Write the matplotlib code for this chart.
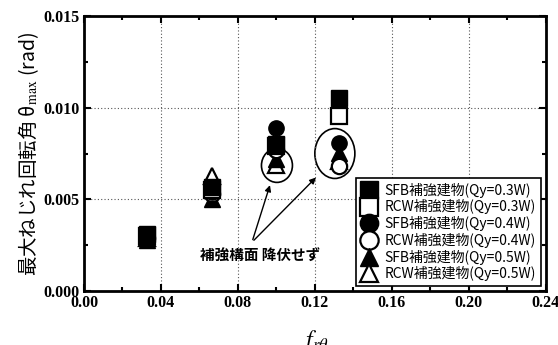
import matplotlib.pyplot as plt
from matplotlib.patches import Ellipse

plt.rcParams["mathtext.fontset"] = "stix"

# data
x_groups = [0.033, 0.0665, 0.100, 0.1325]
sfb_03 = [0.0031, 0.0057, 0.0080, 0.01054]
rcw_03 = [0.0030, 0.0055, 0.0079, 0.00957]
sfb_04 = [0.0029, 0.0054, 0.0089, 0.0081]
rcw_04 = [0.0029, 0.0053, 0.0077, 0.0068]
sfb_05 = [0.0028, 0.0050, 0.0072, 0.00755]
rcw_05 = [0.0029, 0.0063, 0.0069, 0.0071]

labels = ["SFB補強建物(Qy=0.3W)", "RCW補強建物(Qy=0.3W)",
          "SFB補強建物(Qy=0.4W)", "RCW補強建物(Qy=0.4W)",
          "SFB補強建物(Qy=0.5W)", "RCW補強建物(Qy=0.5W)"]

jp = ["Noto Sans CJK JP", "DejaVu Sans"]
serif = ["Liberation Serif", "DejaVu Serif"]

fig = plt.figure(figsize=(5.58, 3.45), dpi=100)
ax = fig.add_axes([0.1505, 0.1565, 0.8275, 0.797])

ms = 11
# triangles first, then circles, then squares (as in the scan)
ax.plot(x_groups, rcw_05, "^", ms=ms, mfc="white", mec="black", mew=1.6, ls="none", label=labels[5])
ax.plot(x_groups, sfb_05, "^", ms=ms, mfc="black", mec="black", ls="none", label=labels[4])
ax.plot(x_groups, rcw_04, "o", ms=ms, mfc="white", mec="black", mew=1.6, ls="none", label=labels[3])
ax.plot(x_groups, sfb_04, "o", ms=ms, mfc="black", mec="black", ls="none", label=labels[2])
ax.plot(x_groups, rcw_03, "s", ms=ms, mfc="white", mec="black", mew=1.6, ls="none", label=labels[1])
ax.plot(x_groups, sfb_03, "s", ms=ms, mfc="black", mec="black", ls="none", label=labels[0])

# circled groups
ax.add_patch(Ellipse((0.1003, 0.00685), 0.0161, 0.00185, fill=False, lw=1.2, color="black"))
ax.add_patch(Ellipse((0.1304, 0.0075), 0.0208, 0.00272, fill=False, lw=1.2, color="black"))

# annotation
ax.annotate("", xy=(0.0971, 0.00592), xytext=(0.0873, 0.00266),
            arrowprops=dict(arrowstyle="-|>", color="black", lw=1.0, mutation_scale=9))
ax.annotate("", xy=(0.1216, 0.0063), xytext=(0.0873, 0.00266),
            arrowprops=dict(arrowstyle="-|>", color="black", lw=1.0, mutation_scale=9))
ax.text(0.0914, 0.00196, "補強構面 降伏せず", family=jp, fontsize=10.5,
        fontweight="bold", ha="center", va="center")

ax.set_xlim(0, 0.24)
ax.set_ylim(0, 0.015)
ax.set_xticks([0.00, 0.04, 0.08, 0.12, 0.16, 0.20, 0.24])
ax.set_xticks([0.02, 0.06, 0.10, 0.14, 0.18, 0.22], minor=True)
ax.set_yticks([0.000, 0.005, 0.010, 0.015])
ax.set_yticks([0.0025, 0.0075, 0.0125], minor=True)
ax.set_xticklabels(["0.00", "0.04", "0.08", "0.12", "0.16", "0.20", "0.24"])
ax.set_yticklabels(["0.000", "0.005", "0.010", "0.015"])
for lab in ax.get_xticklabels() + ax.get_yticklabels():
    lab.set_family(serif)
    lab.set_fontweight("bold")
    lab.set_fontsize(11.5)
ax.tick_params(which="both", direction="in", top=True, right=True, width=1.5)
ax.tick_params(which="major", length=5, pad=3)
ax.tick_params(which="minor", length=3)
ax.grid(True, which="major", ls=(0, (1, 2)), color="#555555", lw=0.8)
for sp in ax.spines.values():
    sp.set_linewidth(2)

ax.set_ylabel("最大ねじれ回転角 θ$_{\\rm max}$ (rad)", family=jp, fontsize=14, labelpad=2)
ax.set_xlabel("$f_{r\\theta}$", fontsize=17, labelpad=12)

h, l = ax.get_legend_handles_labels()
leg = ax.legend(h[::-1], l[::-1], loc="lower right", bbox_to_anchor=(0.989, 0.018),
                prop={"family": jp, "size": 10}, frameon=True, fancybox=False,
                framealpha=1, edgecolor="black", handlelength=1.2, handletextpad=0.5,
                labelspacing=0.12, borderpad=0.35, borderaxespad=0, markerscale=1.2)
leg.get_frame().set_linewidth(1.2)

fig.savefig("out.png", dpi=100)
